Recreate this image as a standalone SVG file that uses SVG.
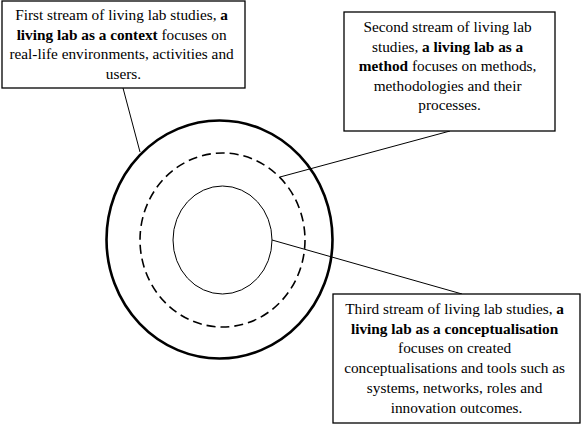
<svg xmlns="http://www.w3.org/2000/svg" width="582" height="426" viewBox="0 0 582 426">
  <style>
    .box { fill: #ffffff; stroke: #000000; stroke-width: 1.3; }
    .lbl { font-family: 'Liberation Serif', 'DejaVu Serif', serif; font-size: 15.3px; fill: #000000; text-anchor: middle; }
    .lbl .b { font-weight: bold; }
    .conn { stroke: #000000; stroke-width: 1; fill: none; }
  </style>
  <rect width="582" height="426" fill="#ffffff"/>

  <!-- concentric rings -->
  <g id="rings">
    <ellipse id="ring-context" cx="219.5" cy="239.5" rx="113" ry="119" fill="none" stroke="#000" stroke-width="2.6"/>
    <ellipse id="ring-method" cx="222.5" cy="240" rx="82.5" ry="87" fill="none" stroke="#000" stroke-width="1.6" stroke-dasharray="9,5"/>
    <ellipse id="ring-concept" cx="222.5" cy="240" rx="49.5" ry="54" fill="none" stroke="#000" stroke-width="1"/>
  </g>

  <!-- connectors -->
  <g id="connectors">
    <line class="conn" x1="123" y1="88" x2="140" y2="152"/>
    <line class="conn" x1="280" y1="177" x2="450" y2="131"/>
    <line class="conn" x1="272" y1="240" x2="462" y2="294"/>
  </g>

  <g id="node-context">
    <rect class="box" x="2" y="1" width="243" height="87"/>
    <text class="lbl" font-family="Liberation Serif, serif">
      <tspan x="123.5" y="20">First stream of living lab studies, <tspan class="b">a</tspan></tspan>
      <tspan x="123.5" y="39.5"><tspan class="b">living lab as a context</tspan> focuses on</tspan>
      <tspan x="123.5" y="59">real-life environments, activities and</tspan>
      <tspan x="123.5" y="78.5">users.</tspan>
    </text>
  </g>

  <g id="node-method">
    <rect class="box" x="344" y="12" width="211" height="119"/>
    <text class="lbl" font-family="Liberation Serif, serif">
      <tspan x="449.5" y="32">Second stream of living lab</tspan>
      <tspan x="449.5" y="51.5">studies, <tspan class="b">a living lab as a</tspan></tspan>
      <tspan x="449.5" y="71"><tspan class="b">method</tspan> focuses on methods,</tspan>
      <tspan x="449.5" y="90.5">methodologies and their</tspan>
      <tspan x="449.5" y="110">processes.</tspan>
    </text>
  </g>

  <g id="node-conceptualisation">
    <rect class="box" x="333" y="294" width="247" height="129"/>
    <text class="lbl" font-family="Liberation Serif, serif">
      <tspan x="456.5" y="314">Third stream of living lab studies, <tspan class="b">a</tspan></tspan>
      <tspan x="456.5" y="333.7"><tspan class="b">living lab as a conceptualisation</tspan></tspan>
      <tspan x="456.5" y="353.4">focuses on created</tspan>
      <tspan x="456.5" y="373">conceptualisations and tools such as</tspan>
      <tspan x="456.5" y="392.8">systems, networks, roles and</tspan>
      <tspan x="456.5" y="412.5">innovation outcomes.</tspan>
    </text>
  </g>
</svg>
